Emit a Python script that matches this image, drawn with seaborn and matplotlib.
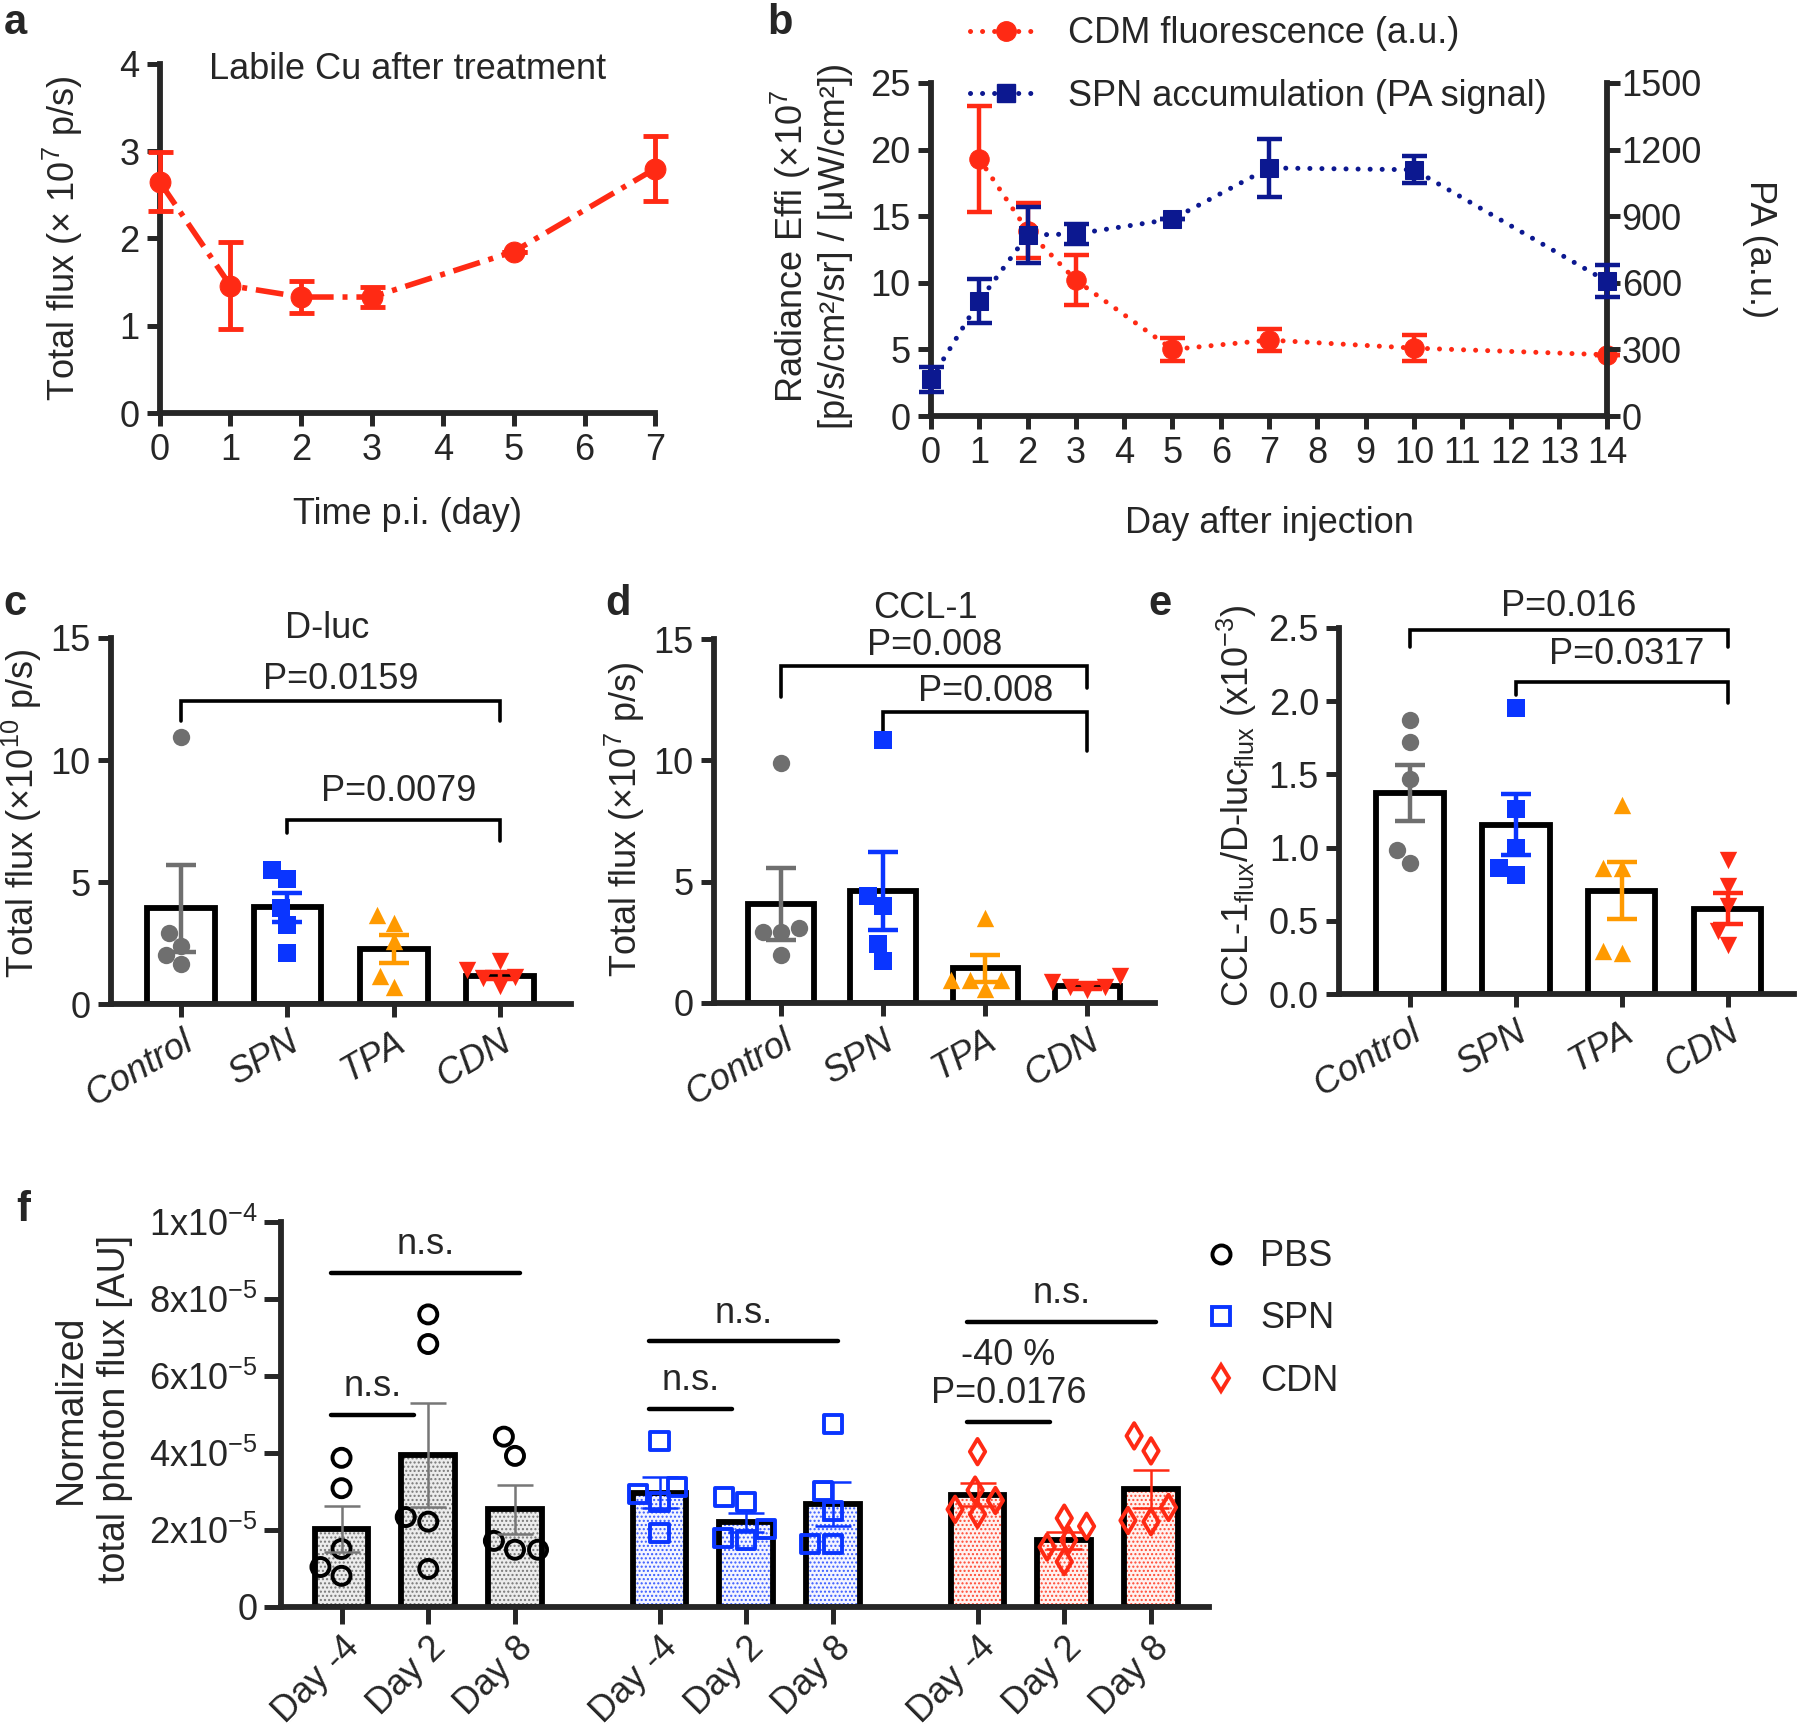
import numpy as np
import matplotlib
matplotlib.use('Agg')
import matplotlib.pyplot as plt
import seaborn as sns
from matplotlib.lines import Line2D

# ---- data ----
# panel a: labile Cu
a_days = [0, 1, 2, 3, 5, 7]
a_flux = [2.65, 1.46, 1.33, 1.33, 1.85, 2.80]
a_sem = [0.34, 0.50, 0.185, 0.115, 0.0, 0.375]

# panel b: CDM fluorescence (left axis) and PA signal (right axis)
b_cdm_days = [1, 2, 3, 5, 7, 10, 14]
b_cdm = [19.3, 13.9, 10.2, 5.0, 5.7, 5.1, 4.6]
b_cdm_sem = [4.0, 2.05, 1.9, 0.85, 0.8, 0.95, 0.0]
b_pa_days = [0, 1, 2, 3, 5, 7, 10, 14]
b_pa = [165, 518, 815, 820, 887, 1117, 1109, 606]
b_pa_sem = [55, 98, 128, 44, 0, 129, 60, 72]

groups = ['Control', 'SPN', 'TPA', 'CDN']

c_mean = [3.92, 3.97, 2.27, 1.17]
c_sem = [1.78, 0.60, 0.58, 0.13]
c_pts = [[10.95, 2.9, 2.39, 2.02, 1.65],
         [5.49, 5.12, 3.92, 3.26, 2.09],
         [3.66, 3.34, 2.6, 1.17, 0.70],
         [1.75, 1.4, 1.1, 1.05, 0.75]]

d_mean = [4.08, 4.61, 1.43, 0.70]
d_sem = [1.47, 1.60, 0.56, 0.13]
d_pts = [[9.9, 3.09, 2.92, 2.92, 1.99],
         [10.83, 4.42, 4.0, 2.43, 1.74],
         [3.49, 0.96, 0.96, 0.96, 0.59],
         [1.1, 0.88, 0.66, 0.66, 0.52]]

e_mean = [1.373, 1.158, 0.707, 0.585]
e_sem = [0.19, 0.21, 0.195, 0.105]
e_pts = [[1.87, 1.724, 1.468, 0.983, 0.895],
         [1.956, 1.263, 1.0, 0.861, 0.812],
         [1.29, 0.861, 0.861, 0.293, 0.28],
         [0.915, 0.737, 0.605, 0.434, 0.334]]

# brackets: (from group, to group, height, drop left, drop right, label)
c_brackets = [(0, 3, 12.4, 11.6, 11.6, 'P=0.0159'), (1, 3, 7.54, 7.0, 6.7, 'P=0.0079')]
d_brackets = [(0, 3, 13.9, 12.6, 13.0, 'P=0.008'), (1, 3, 12.0, 11.0, 10.4, 'P=0.008')]
e_brackets = [(0, 3, 2.488, 2.367, 2.367, 'P=0.016'), (1, 3, 2.128, 2.04, 1.99, 'P=0.0317')]

# panel f (x1e-5)
f_days = ['Day -4', 'Day 2', 'Day 8']
f_treat = ['PBS', 'SPN', 'CDN']
f_mean = [[2.01, 3.94, 2.53], [2.96, 2.19, 2.67], [2.91, 1.73, 3.06]]
f_sem = [[0.60, 1.35, 0.64], [0.40, 0.25, 0.57], [0.30, 0.22, 0.50]]
f_pts = [[[3.87, 3.08, 1.50, 1.03, 0.80], [7.6, 6.83, 2.33, 2.21, 0.98], [4.42, 3.92, 1.71, 1.48, 1.48]],
         [[4.31, 3.11, 2.92, 2.73, 1.91], [2.85, 2.71, 2.03, 1.79, 1.73], [4.76, 3.0, 2.49, 1.62, 1.62]],
         [[4.03, 3.03, 2.76, 2.53, 2.40], [2.30, 2.09, 1.73, 1.55, 1.17], [4.44, 4.05, 2.58, 2.24, 2.21]]]
# (treatment, first day, last day, height, label)
f_ns = [(0, 0, 2, 8.68, 'n.s.'), (0, 0, 1, 4.99, 'n.s.'),
        (1, 0, 2, 6.90, 'n.s.'), (1, 0, 1, 5.15, 'n.s.'),
        (2, 0, 2, 7.40, 'n.s.'), (2, 0, 1, 4.81, '-40 %\nP=0.0176')]

# ---- style ----
sns.set_style('ticks')
plt.rcParams['font.family'] = ['Liberation Sans', 'DejaVu Sans']
plt.rcParams['mathtext.default'] = 'regular'
plt.rcParams['hatch.linewidth'] = 1.0
FS = 26
LW = 4.2
RED = '#ff2a14'
NAVY = '#0c1890'
grp_colors = ['#6f6f6f', '#0a35ff', '#ff9a00', '#ff2a14']
grp_markers = ['o', 's', '^', 'v']


def style_ax(ax, tick_len=9.5):
    for s in ['top', 'right']:
        ax.spines[s].set_visible(False)
    for s in ['left', 'bottom']:
        ax.spines[s].set_linewidth(LW)
    ax.tick_params(axis='both', direction='out', length=tick_len, width=LW * 0.85,
                   labelsize=FS, pad=5)


fig = plt.figure(figsize=(18, 17.29), dpi=100)
W, H = 1568.0, 1506.0


def add_ax(l, r, b, t):
    return fig.add_axes([l / W, 1 - b / H, (r - l) / W, (b - t) / H])


# ---- panel a ----
ax = add_ax(139, 571, 360, 55.4)
sns.lineplot(x=a_days, y=a_flux, ax=ax, color=RED, lw=4, marker='o', markersize=15,
             markeredgecolor=RED, clip_on=False, zorder=3)
ax.lines[-1].set_dashes([5, 1.6, 0.9, 1.6])
ax.errorbar(a_days, a_flux, yerr=a_sem, fmt='none', ecolor=RED, elinewidth=3.5,
            capsize=9, capthick=3.5, zorder=3, clip_on=False)
style_ax(ax)
ax.set_xlim(0, 7)
ax.set_ylim(0, 4)
ax.set_xticks(range(8))
ax.set_yticks(range(5))
ax.set_xlabel('Time p.i. (day)', fontsize=FS)
ax.set_ylabel('Total flux (× 10$^{7}$ p/s)', fontsize=FS)
ax.yaxis.set_label_coords(-0.15, 0.5)
ax.xaxis.set_label_coords(0.5, -0.24)
ax.text(0.5, 0.982, 'Labile Cu after treatment', transform=ax.transAxes, ha='center',
        va='center', fontsize=FS)

# ---- panel b ----
ax = add_ax(811, 1400, 362.4, 72.2)
ax2 = ax.twinx()
dot = (0, (0.01, 2.4))
sns.lineplot(x=b_cdm_days, y=b_cdm, ax=ax, color=RED, lw=3.6, marker='o', markersize=14,
             markeredgecolor=RED, clip_on=False, zorder=4)
ax.lines[-1].set_linestyle(dot)
ax.lines[-1].set_dash_capstyle('round')
ax.errorbar(b_cdm_days, b_cdm, yerr=b_cdm_sem, fmt='none', ecolor=RED, elinewidth=3.2,
            capsize=9, capthick=3.2, zorder=4, clip_on=False)
sns.lineplot(x=b_pa_days, y=b_pa, ax=ax2, color=NAVY, lw=3.6, marker='s', markersize=13,
             markeredgecolor=NAVY, clip_on=False, zorder=3)
ax2.lines[-1].set_linestyle(dot)
ax2.lines[-1].set_dash_capstyle('round')
ax2.errorbar(b_pa_days, b_pa, yerr=b_pa_sem, fmt='none', ecolor=NAVY, elinewidth=3.2,
             capsize=9, capthick=3.2, zorder=3, clip_on=False)
style_ax(ax)
ax.set_xlim(0, 14)
ax.set_ylim(0, 25)
ax.set_xticks(range(15))
ax.set_yticks(range(0, 26, 5))
ax2.set_ylim(0, 1500)
ax2.set_yticks(range(0, 1501, 300))
for s in ['top', 'left', 'bottom']:
    ax2.spines[s].set_visible(False)
ax2.spines['right'].set_linewidth(LW)
ax2.tick_params(axis='y', direction='out', length=9.5, width=LW * 0.85, labelsize=FS, pad=1)
ax.set_xlabel('Day after injection', fontsize=FS)
ax.xaxis.set_label_coords(0.5, -0.27)
ax.set_ylabel('Radiance Effi (×10$^{7}$\n[p/s/cm²/sr] / [μW/cm²])', fontsize=FS,
              linespacing=1.2)
ax.yaxis.set_label_coords(-0.115, 0.51)
ax2.set_ylabel('PA (a.u.)', fontsize=FS, rotation=270, va='bottom')
ax2.yaxis.set_label_coords(1.2, 0.5)
hb = [Line2D([], [], color=RED, ls=dot, lw=3.6, dash_capstyle='round', marker='o',
             markersize=14),
      Line2D([], [], color=NAVY, ls=dot, lw=3.6, dash_capstyle='round', marker='s',
             markersize=13)]
fig.legend(hb, ['CDM fluorescence (a.u.)', 'SPN accumulation (PA signal)'],
           loc='upper left', bbox_to_anchor=(0.527, 1.003), frameon=False, fontsize=FS,
           handlelength=2.0, handletextpad=0.7, labelspacing=0.75, borderaxespad=0.2)


# ---- panels c, d, e ----
def bar_panel(ax, means, sems, pts, brackets, ylim, yticks, ylabels, xlim):
    sns.barplot(x=groups, y=means, order=groups, ax=ax, color='white', edgecolor='black',
                linewidth=LW, width=0.64, errorbar=None, zorder=1)
    for i, g in enumerate(groups):
        sns.swarmplot(x=[g] * len(pts[i]), y=pts[i], order=groups, ax=ax,
                      color=grp_colors[i], marker=grp_markers[i], size=12.5,
                      linewidth=0, zorder=4)
        ax.errorbar([i], [means[i]], yerr=[sems[i]], fmt='none', ecolor=grp_colors[i],
                    elinewidth=3.2, capsize=11, capthick=3.2, zorder=5)
    for i, j, h, dl, dr, lab in brackets:
        ax.plot([i, i, j, j], [dl, h, h, dr], color='black', lw=2.6, clip_on=False,
                solid_joinstyle='miter')
    style_ax(ax)
    ax.set_ylim(*ylim)
    ax.set_yticks(yticks)
    ax.set_yticklabels(ylabels)
    ax.set_xlim(*xlim)
    ax.set_xticks(range(4))
    ax.set_xticklabels(groups, rotation=30, ha='right', rotation_mode='anchor',
                       fontstyle='italic')


ax = add_ax(96.5, 497.6, 874.6, 555.7)
bar_panel(ax, c_mean, c_sem, c_pts, c_brackets, (0, 15), [0, 5, 10, 15],
          ['0', '5', '10', '15'], (-0.666, 3.675))
ax.text(1.5, 13.3, 'P=0.0159', ha='center', va='center', fontsize=FS)
ax.text(2.05, 8.7, 'P=0.0079', ha='center', va='center', fontsize=FS)
ax.text(0.47, 1.025, 'D-luc', transform=ax.transAxes, ha='center', va='center',
        fontsize=FS)
ax.set_ylabel('Total flux (×10$^{10}$ p/s)', fontsize=FS)
ax.yaxis.set_label_coords(-0.145, 0.52)

ax = add_ax(621.6, 1006, 873.6, 556.6)
bar_panel(ax, d_mean, d_sem, d_pts, d_brackets, (0, 15), [0, 5, 10, 15],
          ['0', '5', '10', '15'], (-0.66, 3.66))
ax.text(1.5, 14.75, 'P=0.008', ha='center', va='center', fontsize=FS, clip_on=False)
ax.text(2.0, 12.85, 'P=0.008', ha='center', va='center', fontsize=FS)
ax.text(0.48, 1.084, 'CCL-1', transform=ax.transAxes, ha='center', va='center',
        fontsize=FS)
ax.set_ylabel('Total flux (×10$^{7}$ p/s)', fontsize=FS)
ax.yaxis.set_label_coords(-0.15, 0.506)

ax = add_ax(1166.5, 1563, 866, 547)
bar_panel(ax, e_mean, e_sem, e_pts, e_brackets, (0, 2.5), [0, 0.5, 1.0, 1.5, 2.0, 2.5],
          ['0.0', '0.5', '1.0', '1.5', '2.0', '2.5'], (-0.666, 3.63))
ax.text(1.5, 2.65, 'P=0.016', ha='center', va='center', fontsize=FS, clip_on=False)
ax.text(2.05, 2.32, 'P=0.0317', ha='center', va='center', fontsize=FS)
ax.set_ylabel('CCL-1$_{flux}$/D-luc$_{flux}$ (x10$^{-3}$)', fontsize=FS)
ax.yaxis.set_label_coords(-0.175, 0.514)

# ---- panel f ----
ax = add_ax(245, 1053, 1399.4, 1064.5)
f_colors = ['black', '#0a35ff', '#ff2a14']
f_ecol = ['#777777', '#0a35ff', '#ff2a14']
f_face = ['#ececec', '#f4f5ff', '#fff2f0']
f_hatch = ['#777777', '#3a5cff', '#ff4a34']
f_mark = ['o', 's', 'd']
gap = 3 + 2 / 3.0
ticks, ticklabels = [], []
for t in range(3):
    pos = [t * gap + d for d in range(3)]
    vals = [m * 1e-5 for m in f_mean[t]]
    ax.bar(pos, vals, width=0.62, facecolor=f_face[t], edgecolor=f_hatch[t], hatch='....',
           linewidth=0, zorder=1)
    ax.bar(pos, vals, width=0.62, fill=False, edgecolor='black', linewidth=LW, zorder=2)
    ax.errorbar(pos, vals, yerr=[s * 1e-5 for s in f_sem[t]], fmt='none', ecolor=f_ecol[t],
                elinewidth=1.8, capsize=13, capthick=1.8, zorder=5)
    xs, ys = [], []
    for d in range(3):
        xs += [pos[d]] * len(f_pts[t][d])
        ys += [v * 1e-5 for v in f_pts[t][d]]
    sns.swarmplot(x=xs, y=ys, native_scale=True, ax=ax, color=f_colors[t],
                  marker=f_mark[t], size=13, facecolor='none', edgecolor=f_colors[t],
                  linewidth=2.8, zorder=4)
    ticks += pos
    ticklabels += f_days
for t, d0, d1, h, lab in f_ns:
    x0 = t * gap + d0 - 0.12
    x1 = t * gap + d1 + (0.06 if d1 == 2 else -0.17)
    ax.plot([x0, x1], [h * 1e-5, h * 1e-5], color='black', lw=3.2)
    ax.text((x0 + x1) / 2, h * 1e-5 + 0.28e-5, lab, ha='center', va='bottom', fontsize=FS,
            linespacing=1.1)
style_ax(ax, tick_len=12)
ax.set_xlim(-0.695, 10.0)
ax.set_ylim(0, 1e-4)
ax.set_yticks([0, 2e-5, 4e-5, 6e-5, 8e-5, 1e-4])
ax.set_yticklabels(['0', '2x10$^{-5}$', '4x10$^{-5}$', '6x10$^{-5}$', '8x10$^{-5}$',
                    '1x10$^{-4}$'])
ax.set_xticks(ticks)
ax.set_xticklabels(ticklabels, rotation=45, ha='right', rotation_mode='anchor')
ax.set_ylabel('Normalized\ntotal photon flux [AU]', fontsize=27, linespacing=1.3)
ax.yaxis.set_label_coords(-0.16, 0.513)
hf = [Line2D([], [], ls='none', marker=f_mark[i], markersize=13, mfc='none',
             mec=f_colors[i], mew=2.8) for i in range(3)]
fig.legend(hf, f_treat, loc='upper left', bbox_to_anchor=(0.65, 0.302), frameon=False,
           fontsize=FS, handlelength=1.0, handletextpad=0.6, labelspacing=0.75)

# ---- panel letters ----
for lab, x, y in [('a', 0.002, 0.998), ('b', 0.426, 0.998), ('c', 0.002, 0.662),
                  ('d', 0.336, 0.662), ('e', 0.638, 0.662), ('f', 0.009, 0.312)]:
    fig.text(x, y, lab, fontsize=30, fontweight='bold', ha='left', va='top')

fig.savefig('out.png', dpi=100)
